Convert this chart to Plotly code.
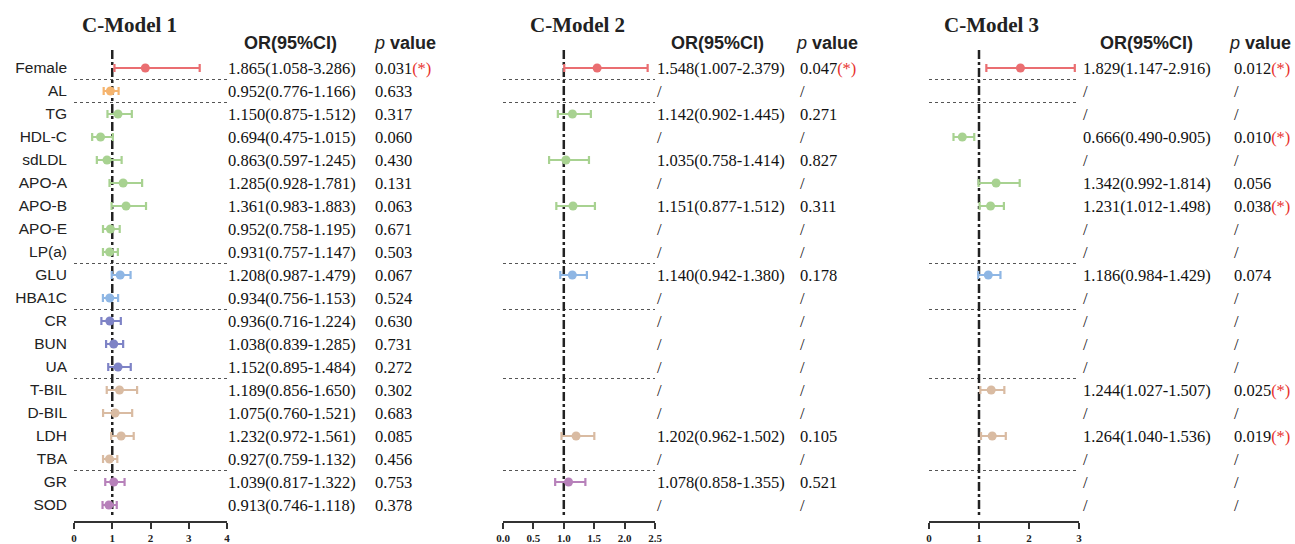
import plotly.graph_objects as go

W, H = 1295, 544

variables = ["Female", "AL", "TG", "HDL-C", "sdLDL", "APO-A", "APO-B", "APO-E", "LP(a)",
             "GLU", "HBA1C", "CR", "BUN", "UA", "T-BIL", "D-BIL", "LDH", "TBA", "GR", "SOD"]
groups = ["sex", "liver", "lipid", "lipid", "lipid", "lipid", "lipid", "lipid", "lipid",
          "glucose", "glucose", "renal", "renal", "renal", "bile", "bile", "bile", "bile", "oxid", "oxid"]
group_colors = {"sex": "#EA6E71", "liver": "#F5B46E", "lipid": "#A8D291", "glucose": "#8EB6E4",
                "renal": "#7E83C6", "bile": "#D9BBA2", "oxid": "#B781BA"}
separators_after = ["Female", "AL", "LP(a)", "HBA1C", "UA", "TBA"]

# Model 1
m1_or = [1.865, 0.952, 1.150, 0.694, 0.863, 1.285, 1.361, 0.952, 0.931, 1.208, 0.934, 0.936,
         1.038, 1.152, 1.189, 1.075, 1.232, 0.927, 1.039, 0.913]
m1_lo = [1.058, 0.776, 0.875, 0.475, 0.597, 0.928, 0.983, 0.758, 0.757, 0.987, 0.756, 0.716,
         0.839, 0.895, 0.856, 0.760, 0.972, 0.759, 0.817, 0.746]
m1_hi = [3.286, 1.166, 1.512, 1.015, 1.245, 1.781, 1.883, 1.195, 1.147, 1.479, 1.153, 1.224,
         1.285, 1.484, 1.650, 1.521, 1.561, 1.132, 1.322, 1.118]
m1_p = ["0.031", "0.633", "0.317", "0.060", "0.430", "0.131", "0.063", "0.671", "0.503", "0.067",
        "0.524", "0.630", "0.731", "0.272", "0.302", "0.683", "0.085", "0.456", "0.753", "0.378"]

# Model 2 (None = not included)
m2_or = [1.548, None, 1.142, None, 1.035, None, 1.151, None, None, 1.140, None, None,
         None, None, None, None, 1.202, None, 1.078, None]
m2_lo = [1.007, None, 0.902, None, 0.758, None, 0.877, None, None, 0.942, None, None,
         None, None, None, None, 0.962, None, 0.858, None]
m2_hi = [2.379, None, 1.445, None, 1.414, None, 1.512, None, None, 1.380, None, None,
         None, None, None, None, 1.502, None, 1.355, None]
m2_p = ["0.047", None, "0.271", None, "0.827", None, "0.311", None, None, "0.178", None, None,
        None, None, None, None, "0.105", None, "0.521", None]

# Model 3
m3_or = [1.829, None, None, 0.666, None, 1.342, 1.231, None, None, 1.186, None, None,
         None, None, 1.244, None, 1.264, None, None, None]
m3_lo = [1.147, None, None, 0.490, None, 0.992, 1.012, None, None, 0.984, None, None,
         None, None, 1.027, None, 1.040, None, None, None]
m3_hi = [2.916, None, None, 0.905, None, 1.814, 1.498, None, None, 1.429, None, None,
         None, None, 1.507, None, 1.536, None, None, None]
m3_p = ["0.012", None, None, "0.010", None, "0.056", "0.038", None, None, "0.074", None, None,
        None, None, "0.025", None, "0.019", None, None, None]

models = [
    dict(name="C-Model 1", orv=m1_or, lo=m1_lo, hi=m1_hi, p=m1_p, ax="x", rng=[0, 4], dtick=1, fmt="d",
         dom=(74, 227), title_x=80, or_x=226, p_x=373, hor_x=242, hp_x=372),
    dict(name="C-Model 2", orv=m2_or, lo=m2_lo, hi=m2_hi, p=m2_p, ax="x2", rng=[0, 2.5], dtick=0.5, fmt=".1f",
         dom=(503, 655), title_x=528, or_x=655, p_x=798, hor_x=669, hp_x=794),
    dict(name="C-Model 3", orv=m3_or, lo=m3_lo, hi=m3_hi, p=m3_p, ax="x3", rng=[0, 3], dtick=1, fmt="d",
         dom=(929, 1079), title_x=942, or_x=1081, p_x=1232, hor_x=1098, hp_x=1227),
]

row_top_px, row_step_px = 68, 23
dom_top_px, dom_bot_px = 50, 521
y_range = [(dom_bot_px - row_top_px) / row_step_px, (dom_top_px - row_top_px) / row_step_px]

fig = go.Figure()
ann = []
shapes = []
serif = "Liberation Serif, Times New Roman, serif"
sans = "Liberation Sans, Arial, sans-serif"

for m in models:
    for g, col in group_colors.items():
        xs, ys, ep, em = [], [], [], []
        for i, v in enumerate(variables):
            if groups[i] == g and m["orv"][i] is not None:
                xs.append(m["orv"][i]); ys.append(i)
                ep.append(m["hi"][i] - m["orv"][i]); em.append(m["orv"][i] - m["lo"][i])
        if xs:
            fig.add_trace(go.Scatter(
                x=xs, y=ys, mode="markers", xaxis=m["ax"], yaxis="y", showlegend=False,
                marker=dict(color=col, size=9),
                error_x=dict(type="data", array=ep, arrayminus=em, color=col, thickness=2.2, width=4),
                hoverinfo="x+y"))
    shapes.append(dict(type="line", xref=m["ax"], yref="y", x0=1, x1=1, y0=-0.78, y1=19.43,
                       line=dict(color="#222", width=2.5, dash="dashdot"), layer="below"))
    for s in separators_after:
        k = variables.index(s) + 0.5
        shapes.append(dict(type="line", xref=m["ax"] + " domain", yref="y", x0=0, x1=1, y0=k, y1=k,
                           line=dict(color="#555", width=1, dash="dot"), layer="below"))
    ann.append(dict(text="<b>%s</b>" % m["name"], x=m["title_x"] / W, y=1 - 25 / H,
                    xref="paper", yref="paper", xanchor="left", yanchor="middle", showarrow=False,
                    font=dict(family=serif, size=21, color="#222")))
    ann.append(dict(text="<b>OR(95%CI)</b>", x=m["hor_x"] / W, y=1 - 43 / H, xref="paper", yref="paper",
                    xanchor="left", yanchor="middle", showarrow=False,
                    font=dict(family=sans, size=18, color="#222")))
    ann.append(dict(text="<i>p</i> <b>value</b>", x=m["hp_x"] / W, y=1 - 43 / H, xref="paper", yref="paper",
                    xanchor="left", yanchor="middle", showarrow=False,
                    font=dict(family=sans, size=18, color="#222")))
    for i, v in enumerate(variables):
        if m["orv"][i] is not None:
            ort = "%.3f(%.3f-%.3f)" % (m["orv"][i], m["lo"][i], m["hi"][i])
            pv = m["p"][i]
            if float(pv) < 0.05:
                pv = pv + "<span style='color:#E8322E'>(*)</span>"
        else:
            ort, pv = "/", "/"
        ann.append(dict(text=ort, x=m["or_x"] / W, y=i, xref="paper", yref="y", xanchor="left",
                        yanchor="middle", showarrow=False, font=dict(family=serif, size=16.5, color="#111")))
        ann.append(dict(text=pv, x=m["p_x"] / W, y=i, xref="paper", yref="y", xanchor="left",
                        yanchor="middle", showarrow=False, font=dict(family=serif, size=16.5, color="#111")))

def xaxis_cfg(m):
    return dict(domain=[m["dom"][0] / W, m["dom"][1] / W], range=m["rng"], dtick=m["dtick"], tick0=0,
                tickformat=m["fmt"], showline=True, linecolor="#333", linewidth=1.5, ticks="outside",
                ticklen=6, tickwidth=1.5, tickcolor="#333", showgrid=False, zeroline=False, anchor="y",
                automargin=False, ticklabelstandoff=0,
                tickfont=dict(family=serif, size=11, color="#222", weight="bold"), fixedrange=True)

fig.update_layout(
    template="none",
    width=W, height=H, autosize=False, margin=dict(l=0, r=0, t=0, b=0, pad=0),
    paper_bgcolor="white", plot_bgcolor="white", showlegend=False,
    xaxis=xaxis_cfg(models[0]), xaxis2=xaxis_cfg(models[1]), xaxis3=xaxis_cfg(models[2]),
    yaxis=dict(domain=[1 - dom_bot_px / H, 1 - dom_top_px / H], range=y_range, tickmode="array",
               tickvals=list(range(len(variables))), ticktext=variables, showgrid=False, zeroline=False,
               showline=False, ticks="", ticklabelstandoff=6, anchor="x", automargin=False,
               tickfont=dict(family=sans, size=15.5, color="#222"), fixedrange=True),
    annotations=ann, shapes=shapes,
)

fig.write_html("out.html", config={"responsive": False, "displayModeBar": False},
               post_script="document.body.style.margin='0';document.body.style.overflow='hidden';")
